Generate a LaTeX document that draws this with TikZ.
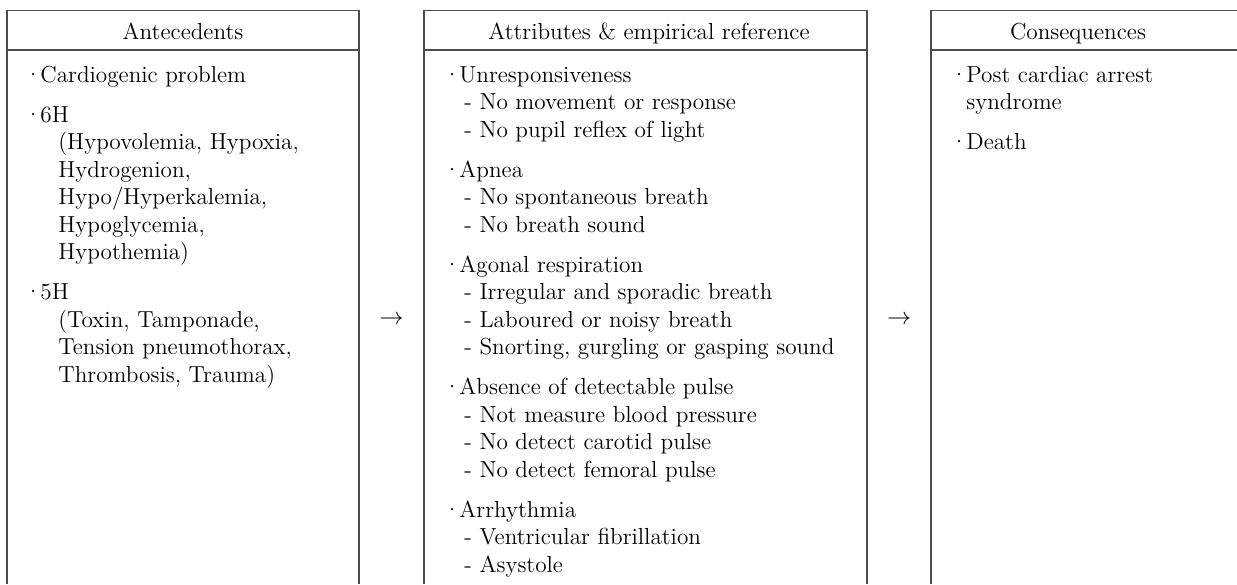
\documentclass[tikz,border=0pt]{standalone}
\usepackage{tikz}

\tikzset{
  boxline/.style={draw=black!70, line width=0.8pt},
  headtext/.style={anchor=base, inner sep=0pt},
  listtext/.style={anchor=base west, align=left, inner sep=0pt},
}
\newcommand{\bul}{\makebox[6pt][l]{\hspace*{-2pt}·}}
\newcommand{\subind}{\hspace*{8.5pt}}
\newcommand{\parind}{\hspace*{15pt}}

\begin{document}
\begin{tikzpicture}[x=0.5pt, y=-0.5pt, every node/.style={font=\fontsize{11.6}{13.75}\selectfont}]
  \useasboundingbox (0,0) rectangle (1237,584);
  \draw[boxline] (7,584) |- (359,10.5) -- (359,584);
  \draw[boxline] (424,584) |- (867,10.5) -- (867,584);
  \draw[boxline] (931,584) |- (1237,10.5);
  \draw[boxline] (7,50) -- (359,50) (424,50) -- (867,50) (931,50) -- (1237,50);

  \node[headtext] (anteHead) at (183,39) {Antecedents};
  \node[headtext] (attrHead) at (649,39) {Attributes \& empirical reference};
  \node[headtext] (consHead) at (1078,39) {Consequences};

  % lists are placed by the baseline of their last line
  \node[listtext] (anteList) at (28,382) {%
    \bul Cardiogenic problem\\[6.25pt]
    \bul 6H\\
    \parind(Hypovolemia, Hypoxia,\\
    \parind Hydrogenion,\\
    \parind Hypo/Hyperkalemia,\\
    \parind Hypoglycemia,\\
    \parind Hypothemia)\\[6.25pt]
    \bul 5H\\
    \parind(Toxin, Tamponade,\\
    \parind Tension pneumothorax,\\
    \parind Thrombosis, Trauma)};

  \node[listtext] (attrList) at (447,572) {%
    \bul Unresponsiveness\\
    \subind- No movement or response\\
    \subind- No pupil reflex of light\\[6.25pt]
    \bul Apnea\\
    \subind- No spontaneous breath\\
    \subind- No breath sound\\[6.25pt]
    \bul Agonal respiration\\
    \subind- Irregular and sporadic breath\\
    \subind- Laboured or noisy breath\\
    \subind- Snorting, gurgling or gasping sound\\[6.25pt]
    \bul Absence of detectable pulse\\
    \subind- Not measure blood pressure\\
    \subind- No detect carotid pulse\\
    \subind- No detect femoral pulse\\[6.25pt]
    \bul Arrhythmia\\
    \subind- Ventricular fibrillation\\
    \subind- Asystole};

  \node[listtext] (consList) at (954,149.5) {%
    \bul Post cardiac arrest\\
    \hspace*{6pt}syndrome\\[6.25pt]
    \bul Death};

  \node (arrowA) at (391.5,320) {$\rightarrow$};
  \node (arrowB) at (899,320) {$\rightarrow$};
\end{tikzpicture}
\end{document}
